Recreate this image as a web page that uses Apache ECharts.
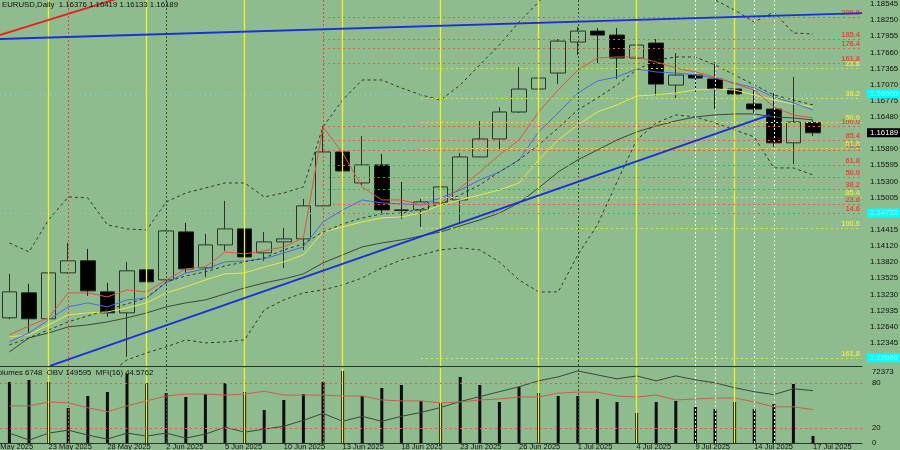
<!DOCTYPE html>
<html><head><meta charset="utf-8">
<script src="https://cdn.jsdelivr.net/npm/echarts@6/dist/echarts.min.js"></script>
<style>html,body{margin:0;padding:0;background:#8fbc8f;overflow:hidden}#c{width:900px;height:450px}</style>
</head><body><div id="c"></div>
<script>
// ---------- data ----------
const dates = ['20 May 2025','21 May 2025','22 May 2025','23 May 2025','26 May 2025','27 May 2025','28 May 2025','29 May 2025','30 May 2025',
 '2 Jun 2025','3 Jun 2025','4 Jun 2025','5 Jun 2025','6 Jun 2025','9 Jun 2025','10 Jun 2025','11 Jun 2025','12 Jun 2025','13 Jun 2025',
 '16 Jun 2025','17 Jun 2025','18 Jun 2025','19 Jun 2025','20 Jun 2025','23 Jun 2025','24 Jun 2025','25 Jun 2025','26 Jun 2025','27 Jun 2025',
 '30 Jun 2025','1 Jul 2025','2 Jul 2025','3 Jul 2025','4 Jul 2025','7 Jul 2025','8 Jul 2025','9 Jul 2025','10 Jul 2025','11 Jul 2025',
 '14 Jul 2025','15 Jul 2025','16 Jul 2025','17 Jul 2025','',''];
// bars start at 21 May (20 May is off the left edge)
const opens  = [1.12802,1.13259,1.12784,1.13625,1.13845,1.13277,1.12893,1.13680,1.13497,1.14375,1.13717,1.14137,1.14430,1.13991,1.14192,1.14247,1.14851,1.15838,1.15271,1.15601,1.14777,1.14777,1.14906,1.14960,1.15747,1.16076,1.16570,1.16990,1.17283,1.17850,1.18051,1.17978,1.17557,1.17832,1.17063,1.17246,1.17173,1.16990,1.16717,1.16624,1.16005,1.16376];
const highs  = [1.13607,1.13424,1.13735,1.14174,1.14064,1.13442,1.13826,1.13881,1.14410,1.14540,1.14338,1.14942,1.14558,1.14375,1.14448,1.14979,1.16314,1.16131,1.16131,1.15802,1.15289,1.14979,1.15418,1.15820,1.16405,1.16661,1.17393,1.17521,1.17905,1.18124,1.18106,1.18106,1.17868,1.17905,1.17649,1.17283,1.17484,1.17137,1.16972,1.16917,1.17210,1.16419];
const lows   = [1.12775,1.12528,1.12770,1.13610,1.13204,1.12820,1.12089,1.13113,1.13480,1.13625,1.13552,1.14027,1.13698,1.13845,1.13717,1.14045,1.14840,1.14888,1.15235,1.14722,1.14613,1.14466,1.14895,1.14540,1.15740,1.15893,1.16551,1.16789,1.17081,1.17612,1.17466,1.17173,1.17550,1.16862,1.16826,1.16899,1.16624,1.16643,1.16551,1.15930,1.15619,1.16133];
const closes = [1.13277,1.12784,1.13625,1.13845,1.13296,1.12893,1.13662,1.13461,1.14393,1.13698,1.14137,1.14430,1.13917,1.14192,1.14247,1.14851,1.15838,1.15491,1.15601,1.14777,1.14770,1.14924,1.15198,1.15747,1.16076,1.16570,1.16990,1.17191,1.17868,1.18051,1.17978,1.17557,1.17795,1.17081,1.17246,1.17191,1.16990,1.16899,1.16624,1.16005,1.16387,1.16189];

const maRed    = [1.12490,1.12654,1.12801,1.13258,1.13258,1.13185,1.13313,1.13276,1.13496,1.13697,1.13734,1.14008,1.13972,1.14027,1.14100,1.14265,1.16296,1.15820,1.15198,1.14960,1.14960,1.14869,1.14905,1.15180,1.15472,1.15784,1.16058,1.16570,1.16973,1.17339,1.17559,1.17577,1.17577,1.17485,1.17376,1.17302,1.17211,1.17083,1.16973,1.16662,1.16516,1.16461];
const maBlue   = [1.12361,1.12526,1.12764,1.13002,1.13075,1.13002,1.13130,1.13167,1.13441,1.13624,1.13697,1.13825,1.13844,1.13880,1.13990,1.14100,1.14557,1.14777,1.14960,1.14905,1.14887,1.14869,1.14997,1.15143,1.15326,1.15472,1.15692,1.16204,1.16552,1.16918,1.17138,1.17211,1.17357,1.17302,1.17284,1.17248,1.17193,1.17101,1.17010,1.16845,1.16735,1.16607];
const maYellow = [1.12453,1.12490,1.12673,1.12856,1.12892,1.12910,1.12984,1.13075,1.13258,1.13368,1.13496,1.13606,1.13624,1.13734,1.13825,1.13954,1.14374,1.14466,1.14557,1.14631,1.14649,1.14720,1.14869,1.14960,1.15052,1.15143,1.15271,1.15692,1.16058,1.16333,1.16570,1.16699,1.16863,1.16882,1.16918,1.16973,1.16991,1.16973,1.16882,1.16790,1.16717,1.16662];
const maGray   = [1.12178,1.12435,1.12526,1.12636,1.12673,1.12727,1.12801,1.12892,1.13002,1.13075,1.13130,1.13240,1.13350,1.13441,1.13514,1.13606,1.13807,1.13954,1.14100,1.14173,1.14228,1.14301,1.14374,1.14484,1.14594,1.14720,1.14905,1.15180,1.15472,1.15692,1.15875,1.16058,1.16204,1.16314,1.16406,1.16479,1.16516,1.16534,1.16534,1.16479,1.16461,1.16424];
const bbUpper  = [1.14173,1.14008,1.14594,1.15015,1.14997,1.14503,1.14429,1.14411,1.14923,1.15088,1.15180,1.15271,1.15271,1.15015,1.15088,1.15198,1.16296,1.16790,1.17156,1.17156,1.17010,1.16882,1.16790,1.17065,1.17431,1.17797,1.18217,1.18583,1.18986,1.19444,1.19718,1.19718,1.19627,1.19444,1.19169,1.18895,1.18620,1.18437,1.18217,1.18400,1.18016,1.17998];
const bbMiddle = [1.12307,1.12435,1.12581,1.12727,1.12837,1.12947,1.13057,1.13167,1.13459,1.13569,1.13642,1.13752,1.13825,1.13899,1.14045,1.14155,1.14374,1.14521,1.14631,1.14704,1.14720,1.14795,1.14887,1.15052,1.15235,1.15472,1.15692,1.15967,1.16278,1.16607,1.16827,1.17065,1.17339,1.17522,1.17577,1.17577,1.17431,1.17248,1.17065,1.16882,1.16790,1.16699];
const bbLower  = [1.11575,1.11392,1.11300,1.11337,1.11392,1.11758,1.12032,1.12160,1.12270,1.12398,1.12343,1.12361,1.12398,1.12947,1.13130,1.13258,1.13313,1.13405,1.13533,1.13716,1.13862,1.13954,1.14045,1.14082,1.14045,1.13825,1.13496,1.13276,1.13276,1.13954,1.14503,1.15289,1.16058,1.16369,1.16516,1.16479,1.16369,1.16241,1.16113,1.15546,1.15546,1.15418];

const volumes = [58865,60795,58865,33775,45355,49215,66585,57900,48250,44390,47285,57900,49215,31845,41495,47285,58865,69480,45355,53075,55970,40530,38600,63690,55970,39565,54040,48250,45355,45355,42460,39565,28950,39565,40530,34740,32810,39565,32810,37635,56935,6748];
const obv = [-280405,-350405,-280405,-250405,-300405,-340405,-280405,-310405,-280405,-330405,-290405,-220405,-270405,-240405,-210405,-150405,-80405,-160405,-110405,-160405,-110405,-70405,-20405,39595,89595,139595,189595,249595,289595,349595,309595,269595,299595,249595,299595,259595,229595,179595,139595,109595,169595,149595];
const mfi = [49.5,49.5,54.8,53.5,46.9,41.7,49.5,56.1,62.6,65.2,65.2,63.9,65.2,69.1,63.9,63.9,63.9,62.6,62.6,57.4,56.1,56.1,53.5,54.8,57.4,58.7,61.3,61.3,66.5,67.8,67.8,62.6,61.3,63.9,57.4,58.7,60.0,60.0,54.8,48.2,48.2,44.5762];

const priceTicks = [1.18545,1.18250,1.17955,1.17660,1.17365,1.17070,1.16775,1.16480,1.15890,1.15595,1.15300,1.15005,1.14415,1.14120,1.13820,1.13525,1.13230,1.12935,1.12640,1.12345];
const mfiTicks = [0,20,80];
const volumeMax = 72373;
const obvRange = [-380405, 379595];
const priceRange = [1.1192, 1.1862];

const redFibLevels = ['200.0','185.4','176.4','161.8','100.0','85.4','76.4','61.8','50.0','38.2','23.6','14.6'];
const redFibPrices = [1.18309,1.17906,1.17742,1.17467,1.16314,1.16058,1.15875,1.15601,1.15381,1.15161,1.14887,1.14722];
const yellowFibLevels = ['23.6','38.2','50.0','61.8','85.4','100.0','161.8'];
const yellowFibPrices = [1.17376,1.16827,1.16387,1.15912,1.15015,1.14448,1.12069];
const redFibStart = 17, yellowFibStart = 22;       // bar index (category) where the fib lines begin
const cyanLevels = [1.16900, 1.14722];
const cyanLabelLevels = [1.16900, 1.14722, 1.12069];

// trend lines: [barIndex, price]
const trendUpperBlue = [[-0.5,1.17895],[44.5,1.18380]];
const trendRed = [[-0.5,1.17866],[7.66,1.18774]];
const trendLowerBlue = [[3.07,1.11922],[39.8,1.16516]];

// vertical period separators (bar index)
const vYellow = [3,8,13,18,23,28,33,38];
const vRed = [4,17];
const vDark = [9,30];
const vWhite = [36,37,39,40];

// ---------- chart ----------
const FONT = 'Liberation Sans';
const K = dates.length;
const pad = a => [null, ...a, null, null];
const candleData = [['-','-','-','-'], ...opens.map((o,i)=>[o, closes[i], lows[i], highs[i]]), ['-','-','-','-'], ['-','-','-','-']];
const last = opens.length - 1;
const AX = '#2b352b';
const NONE = 'rgba(0,0,0,0)';

function verticals(){
  const out = [];
  vYellow.forEach(k=>out.push({xAxis:k, lineStyle:{color:'#f2f21e', width:1.3, type:'solid'}}));
  vRed.forEach(k=>out.push({xAxis:k, lineStyle:{color:'#e04a3a', width:1, type:[2,2]}}));
  vDark.forEach(k=>out.push({xAxis:k, lineStyle:{color:'#3a463a', width:1, type:[2,2]}}));
  vWhite.forEach(k=>out.push({xAxis:k, lineStyle:{color:'#eef4ee', width:1, type:[2,2]}}));
  return out;
}
function fibLines(levels, prices, start, color, lineColor){
  return levels.map((lv,i)=>[
    {coord:[start, prices[i]], lineStyle:{color:lineColor, width:1, type:[2,3]},
     label:{show:true, position:'insideEndTop', formatter:lv, color:color, fontSize:7.5, fontFamily:FONT, fontWeight:'bold', distance:[2,0]}},
    {coord:[K-0.5, prices[i]]}
  ]);
}
const boxLabel = (text, bg, fg) => ({show:true, position:'end', distance:5, formatter:text, backgroundColor:bg, color:fg,
  fontSize:7.8, fontFamily:FONT, padding:[1,3,0,3]});
const mainMarks = [].concat(
  verticals(),
  fibLines(redFibLevels, redFibPrices, redFibStart, '#e8483c', '#e0604c'),
  fibLines(yellowFibLevels, yellowFibPrices, yellowFibStart, '#e6e640', '#dede48'),
  cyanLevels.map(p=>({yAxis:p, lineStyle:{color:'#5fe3d6', width:1, type:[1,4]}, label:{show:false}})),
  cyanLabelLevels.map(p=>({yAxis:p, lineStyle:{color:NONE, width:1}, label:boxLabel(p.toFixed(5), '#00ffff', '#a8f8f8')})),
  [{yAxis:closes[last], lineStyle:{color:NONE, width:1}, label:boxLabel(closes[last].toFixed(5), '#000000', '#ffffff')}]
);
const lowerMarks = [].concat(
  verticals(),
  [80,20].map(v=>({yAxis:v, lineStyle:{color:'#d8604c', width:1, type:[2,3]}, label:{show:false}}))
);

function maLine(data, color, dashed){
  return {type:'line', xAxisIndex:0, yAxisIndex:0, data:pad(data), symbol:'none', silent:true, z:4,
    lineStyle:{color:color, width:1, type: dashed ? [3,3] : 'solid'}};
}
function trend(data, color){
  return {type:'line', xAxisIndex:1, yAxisIndex:0, data:data, symbol:'none', silent:true, z:5,
    lineStyle:{color:color, width:1.8}};
}
const labelStyle = {fontSize:7.8, color:'#111', fontFamily:FONT};

const option = {
  animation:false,
  backgroundColor:'#8fbc8f',
  title:[
    {text:`EURUSD,Daily  ${opens[last].toFixed(5)} ${highs[last].toFixed(5)} ${lows[last].toFixed(5)} ${closes[last].toFixed(5)}`,
     left:2, top:1, padding:0, textStyle:{fontSize:7.8, fontWeight:'normal', color:'#111', fontFamily:FONT}},
    {text:`Volumes ${volumes[last]}  OBV ${obv[last]}  MFI(16) ${mfi[last]}`,
     left:-7, top:369, padding:0, textStyle:{fontSize:7.8, fontWeight:'normal', color:'#111', fontFamily:FONT}}
  ],
  grid:[
    {left:-20, top:0, width:882, height:366, outerBoundsMode:'none', containLabel:false},
    {left:-20, top:368, width:882, height:75, outerBoundsMode:'none', containLabel:false}
  ],
  xAxis:[
    {type:'category', gridIndex:0, data:dates, boundaryGap:true, axisTick:{show:false}, axisLabel:{show:false}, splitLine:{show:false}, axisLine:{lineStyle:{color:AX}}},
    {type:'value', gridIndex:0, min:-0.5, max:K-0.5, show:false},
    {type:'category', gridIndex:1, data:dates, boundaryGap:true, axisTick:{show:false}, splitLine:{show:false}, axisLine:{lineStyle:{color:AX}},
     axisLabel:{show:true, interval:(i)=> i%3===0 && dates[i]!=='', align:'left', margin:0, fontSize:7.5, color:'#111', fontFamily:FONT, hideOverlap:false}},
    {type:'value', gridIndex:1, min:-0.5, max:K-0.5, show:false}
  ],
  yAxis:[
    {type:'value', gridIndex:0, position:'right', offset:4, min:priceRange[0], max:priceRange[1], scale:true, splitLine:{show:false},
     axisLine:{show:true, lineStyle:{color:AX}}, axisTick:{show:true, customValues:priceTicks, length:3, lineStyle:{color:AX}},
     axisLabel:Object.assign({customValues:priceTicks, formatter:v=>v.toFixed(5), margin:4}, labelStyle)},
    {type:'value', gridIndex:1, position:'right', offset:4, min:0, max:100, splitLine:{show:false},
     axisLine:{show:true, lineStyle:{color:AX}}, axisTick:{show:true, customValues:mfiTicks, length:3, lineStyle:{color:AX}},
     axisLabel:Object.assign({customValues:mfiTicks, margin:6, formatter:v=>String(v)}, labelStyle)},
    {type:'value', gridIndex:1, position:'right', offset:4, min:0, max:volumeMax, splitLine:{show:false},
     axisLine:{show:false}, axisTick:{show:false},
     axisLabel:Object.assign({customValues:[volumeMax], margin:6, verticalAlign:'top', formatter:v=>String(v)}, labelStyle)},
    {type:'value', gridIndex:1, min:obvRange[0], max:obvRange[1], show:false}
  ],
  series:[
    {type:'line', xAxisIndex:1, yAxisIndex:0, data:[], silent:true, z:1, clip:false,
     markLine:{symbol:['none','none'], precision:6, silent:true, animation:false, label:{show:false}, data:mainMarks}},
    {type:'candlestick', xAxisIndex:0, yAxisIndex:0, data:candleData, barWidth:15, z:3, silent:true,
     itemStyle:{color:'#8fbc8f', color0:'#000000', borderColor:'#2a352a', borderColor0:'#1a201a', borderWidth:1}},
    maLine(maGray, '#3a483a'),
    maLine(maYellow, '#e8e848'),
    maLine(maBlue, '#4a6ae8'),
    maLine(maRed, '#e0553f'),
    maLine(bbUpper, '#2e3a2e', true),
    maLine(bbMiddle, '#2e3a2e', true),
    maLine(bbLower, '#2e3a2e', true),
    trend(trendUpperBlue, '#1a2fd8'),
    trend(trendLowerBlue, '#1a2fd8'),
    trend(trendRed, '#e82020'),
    {type:'line', xAxisIndex:3, yAxisIndex:1, data:[], silent:true, z:1,
     markLine:{symbol:['none','none'], precision:6, silent:true, animation:false, label:{show:false}, data:lowerMarks}},
    {type:'bar', xAxisIndex:2, yAxisIndex:2, data:pad(volumes), barWidth:3, z:3, silent:true, itemStyle:{color:'#0c0c0c'}},
    {type:'line', xAxisIndex:2, yAxisIndex:3, data:pad(obv), symbol:'none', silent:true, z:4, lineStyle:{color:'#3a483a', width:1}},
    {type:'line', xAxisIndex:2, yAxisIndex:1, data:pad(mfi), symbol:'none', silent:true, z:4, lineStyle:{color:'#c8604c', width:1}}
  ]
};
const chart = echarts.init(document.getElementById('c'), null, {renderer:'canvas'});
chart.setOption(option);
</script></body></html>
